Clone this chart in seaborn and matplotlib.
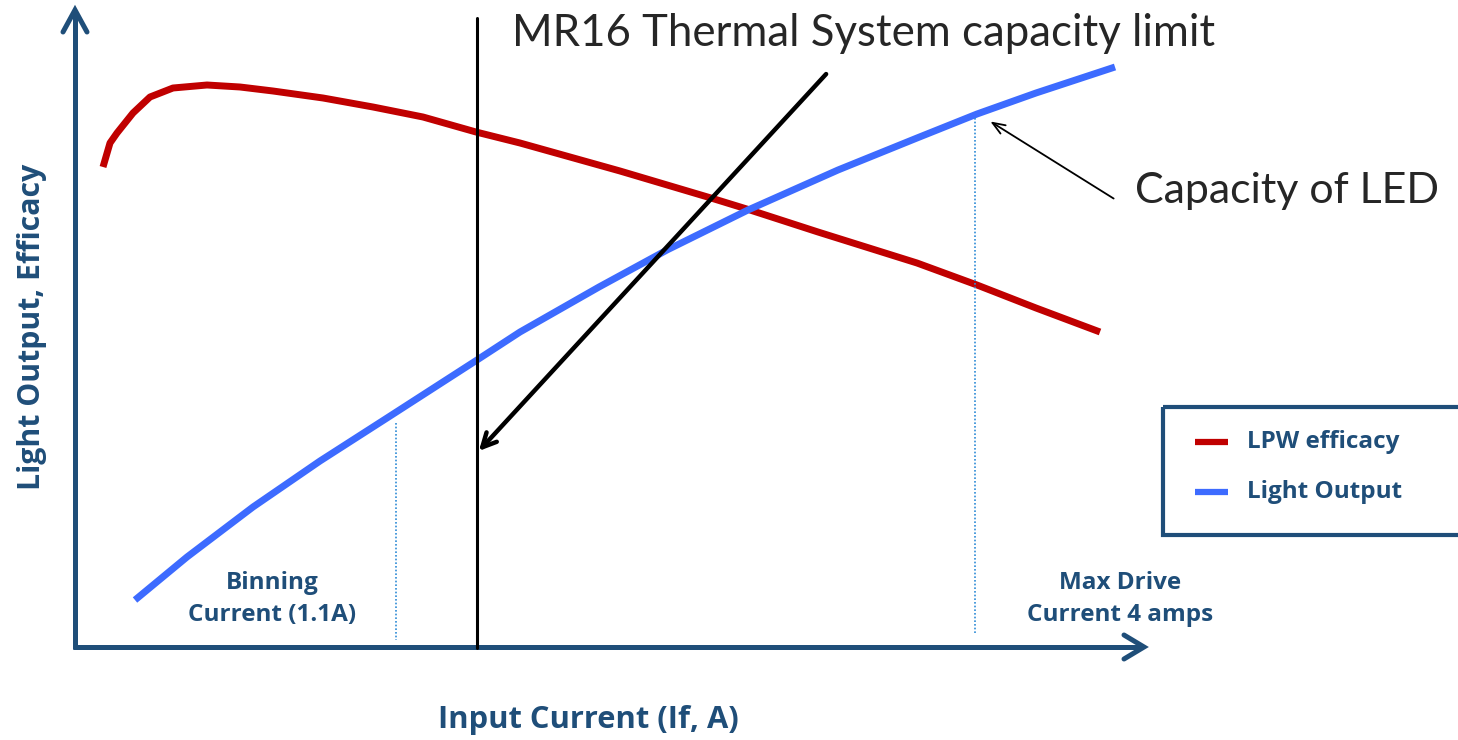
import numpy as np
import pandas as pd
import seaborn as sns
import matplotlib.pyplot as plt
from matplotlib.patches import Rectangle

# schematic values (x = drive position, y = height, top = 0)
eff_x = [103, 110, 117, 133, 150, 173, 207, 240, 273, 323, 373, 423, 476, 520, 620, 711, 750, 818, 917, 977, 1036, 1100]
eff_y = [167, 143, 133, 113, 97, 88, 85, 87, 91, 98, 107, 117, 132, 143, 171, 198, 210, 232, 263, 285, 308, 332]
out_x = [135, 187, 253, 320, 387, 477, 520, 599, 667, 748, 838, 917, 977, 1036, 1115]
out_y = [600, 557, 507, 461, 418, 360, 332, 287, 250, 210, 170, 138, 114, 93, 67]

labels = ["LPW efficacy", "Light Output"]
binning_x = 396
maxdrive_x = 975
thermal_x = 477

navy = "#1F4E79"
red = "#C00000"
blue = "#3D6BFF"
dot_blue = "#2E8BD6"

sns.set_style("white")
plt.rcParams['font.family'] = ['Lato', 'DejaVu Sans']
bold_font = ['Open Sans', 'DejaVu Sans']

fig = plt.figure(figsize=(14.58, 7.4), dpi=100)
ax = fig.add_axes([0, 0, 1, 1])
ax.set_xlim(0, 1458)
ax.set_ylim(740, 0)
ax.axis("off")

df = pd.concat([
    pd.DataFrame({"x": eff_x, "y": eff_y, "s": labels[0]}),
    pd.DataFrame({"x": out_x, "y": out_y, "s": labels[1]}),
])
sns.lineplot(data=df, x="x", y="y", hue="s", palette=[red, blue], lw=5,
             sort=False, legend=False, ax=ax, solid_capstyle="butt", solid_joinstyle="round")

# axes arrows
ax.plot([75, 75], [649, 12], color=navy, lw=3.6, solid_capstyle="butt")
ax.plot([63, 75, 87], [32, 10, 32], color=navy, lw=3.6, solid_capstyle="round", solid_joinstyle="miter")
ax.plot([73, 1142], [647, 647], color=navy, lw=3.6, solid_capstyle="butt")
ax.plot([1124, 1144, 1124], [635, 647, 659], color=navy, lw=3.6, solid_capstyle="round", solid_joinstyle="miter")

# dotted markers
ax.plot([binning_x, binning_x], [423, 640], color=dot_blue, lw=1.2, ls=(0, (1, 1.2)))
ax.plot([maxdrive_x, maxdrive_x], [118, 635], color=dot_blue, lw=1.2, ls=(0, (1, 1.2)))

# thermal limit line
ax.plot([thermal_x, thermal_x], [18, 648], color="black", lw=2.2)
ax.annotate("", xy=(thermal_x, 453), xytext=(828, 72),
            arrowprops=dict(arrowstyle="->,head_length=1.0,head_width=0.5", color="black", lw=3.2))
ax.annotate("", xy=(988, 120), xytext=(1116, 200),
            arrowprops=dict(arrowstyle="->,head_length=0.9,head_width=0.35", color="black", lw=1.3))

ax.text(512, 33, "MR16 Thermal System capacity limit", fontsize=31.5, ha="left", va="center")
ax.text(1135, 191, "Capacity of LED", fontsize=31, ha="left", va="center")

ax.text(32, 327, "Light Output, Efficacy", fontsize=21.8, fontweight="bold", color=navy,
        rotation=90, ha="center", va="center", family=bold_font)
ax.text(588, 720, "Input Current (If, A)", fontsize=22.2, fontweight="bold", color=navy,
        ha="center", va="center", family=bold_font)
ax.text(272, 599, "Binning\nCurrent (1.1A)", fontsize=17.5, fontweight="bold", color=navy,
        ha="center", va="center", linespacing=1.45, family=bold_font)
ax.text(1120, 599, "Max Drive\nCurrent 4 amps", fontsize=17.5, fontweight="bold", color=navy,
        ha="center", va="center", linespacing=1.45, family=bold_font)

# legend box
ax.add_patch(Rectangle((1163, 407), 320, 128, fill=False, edgecolor=navy, lw=3, clip_on=False))
for yy, col, lab in [(442, red, labels[0]), (492, blue, labels[1])]:
    ax.plot([1195, 1228], [yy, yy], color=col, lw=4.5, solid_capstyle="butt")
    ax.text(1247, yy, lab, fontsize=17.5, fontweight="bold", color=navy, ha="left", va="center",
            family=bold_font)

fig.savefig("out.png", dpi=100)
